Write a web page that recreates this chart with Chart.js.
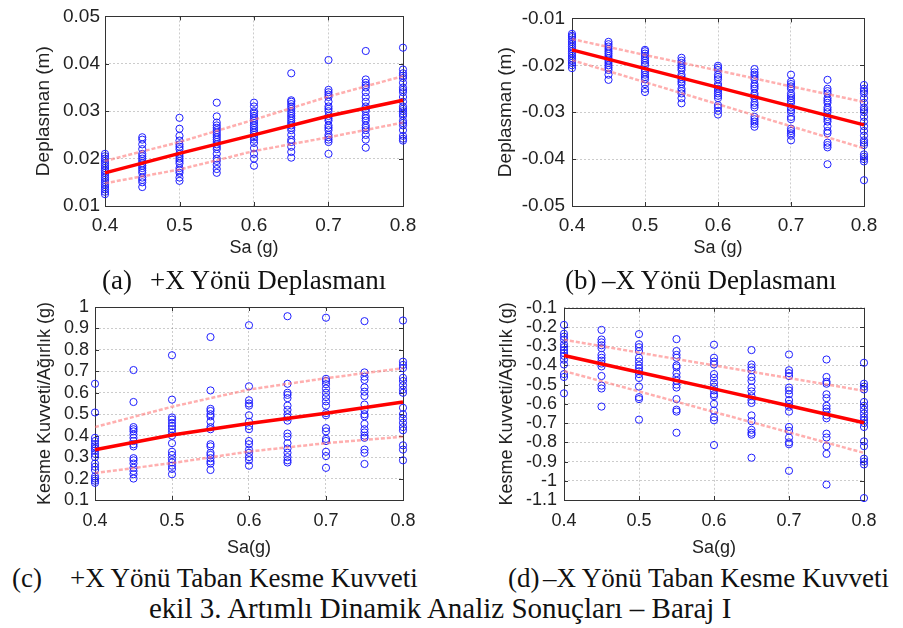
<!DOCTYPE html>
<html>
<head>
<meta charset="utf-8">
<script src="https://cdn.jsdelivr.net/npm/chart.js@4.4.1/dist/chart.umd.min.js"></script>
<style>
  body { margin: 0; background: #fff; }
  #page { position: relative; width: 903px; height: 628px; overflow: hidden; background: #fff; }
  canvas { position: absolute; }
  .cap { position: absolute; font-family: "Liberation Serif", "Times New Roman", serif; font-size: 27px; line-height: 30px; color: #111; white-space: pre; }
  .fig { font-size: 29px; line-height: 32px; }
</style>
</head>
<body>
<div id="page">
  <canvas id="chartA" width="440" height="262" style="left:0;top:0"></canvas>
  <canvas id="chartB" width="453" height="262" style="left:450px;top:0"></canvas>
  <canvas id="chartC" width="440" height="270" style="left:0;top:290px"></canvas>
  <canvas id="chartD" width="453" height="270" style="left:450px;top:290px"></canvas>

  <div class="cap" style="left:102px;top:265px">(a)</div>
  <div class="cap" style="left:150px;top:265px">+X Yönü Deplasmanı</div>
  <div class="cap" style="left:565px;top:265px">(b)</div>
  <div class="cap" style="left:602px;top:265px">–X Yönü Deplasmanı</div>
  <div class="cap" style="left:12px;top:563px">(c)</div>
  <div class="cap" style="left:70px;top:563px">+X Yönü Taban Kesme Kuvveti</div>
  <div class="cap" style="left:508px;top:563px">(d)</div>
  <div class="cap" style="left:543px;top:563px">–X Yönü Taban Kesme Kuvveti</div>
  <div class="cap fig" style="left:149px;top:592px">ekil 3. Artımlı Dinamik Analiz Sonuçları – Baraj I</div>
</div>
<script>
// Sa levels (g) of the analyses, and x positions used for the fitted curves
const saLevels = [0.4, 0.45, 0.5, 0.55, 0.6, 0.65, 0.7, 0.75, 0.8];
const lineX = [0.4, 0.5, 0.6, 0.7, 0.8];

// (a) +X displacement (m), one list per Sa level
const dispPos = [
    [0.021, 0.0205, 0.020, 0.0195, 0.019, 0.0185, 0.018, 0.0175, 0.017, 0.0165, 0.016, 0.0155, 0.015, 0.0145, 0.014, 0.0135, 0.013, 0.0125],
    [0.0245, 0.024, 0.023, 0.022, 0.021, 0.0205, 0.020, 0.0195, 0.019, 0.0185, 0.018, 0.0175, 0.017, 0.016, 0.0155, 0.015, 0.014],
    [0.0286, 0.0263, 0.0248, 0.0238, 0.023, 0.0225, 0.022, 0.021, 0.0205, 0.020, 0.0195, 0.019, 0.018, 0.0175, 0.017, 0.016, 0.0153],
    [0.0318, 0.0289, 0.0276, 0.027, 0.0265, 0.026, 0.0255, 0.025, 0.0245, 0.024, 0.0235, 0.023, 0.0225, 0.022, 0.021, 0.020, 0.0195, 0.0187, 0.0178, 0.017],
    [0.0318, 0.031, 0.030, 0.0295, 0.029, 0.0285, 0.028, 0.0275, 0.027, 0.0265, 0.026, 0.0255, 0.025, 0.0245, 0.024, 0.0233, 0.0222, 0.021, 0.020, 0.0185],
    [0.038, 0.0323, 0.032, 0.0315, 0.031, 0.0305, 0.030, 0.0295, 0.029, 0.0285, 0.028, 0.0275, 0.027, 0.0265, 0.026, 0.025, 0.024, 0.0235, 0.0225, 0.0214, 0.0202],
    [0.0408, 0.0345, 0.034, 0.0335, 0.033, 0.032, 0.031, 0.0305, 0.030, 0.029, 0.0285, 0.028, 0.027, 0.0265, 0.026, 0.025, 0.0245, 0.024, 0.0235, 0.021],
    [0.0427, 0.0367, 0.036, 0.0355, 0.035, 0.034, 0.033, 0.032, 0.031, 0.0305, 0.030, 0.029, 0.0285, 0.028, 0.027, 0.0265, 0.026, 0.025, 0.024, 0.0223],
    [0.0434, 0.0388, 0.038, 0.0375, 0.037, 0.036, 0.035, 0.0345, 0.034, 0.033, 0.032, 0.031, 0.0305, 0.030, 0.0295, 0.029, 0.028, 0.0275, 0.027, 0.026, 0.0248, 0.0242, 0.0238]
];
const dispPosFit = [0.017, 0.0211, 0.025, 0.029, 0.0323];
const dispPosUpper = [0.0195, 0.0235, 0.0282, 0.0331, 0.0374];
const dispPosLower = [0.0148, 0.0177, 0.0216, 0.0245, 0.0276];

// (b) -X displacement (m)
const dispNeg = [
    [-0.0133, -0.0137, -0.014, -0.0145, -0.015, -0.0155, -0.016, -0.0165, -0.017, -0.0175, -0.018, -0.0185, -0.019, -0.0195, -0.020, -0.0206],
    [-0.015, -0.0155, -0.016, -0.0165, -0.017, -0.0175, -0.018, -0.0185, -0.019, -0.0195, -0.020, -0.0205, -0.021, -0.022, -0.0231],
    [-0.0167, -0.017, -0.0175, -0.018, -0.0185, -0.019, -0.0195, -0.020, -0.021, -0.0215, -0.022, -0.0225, -0.023, -0.024, -0.025, -0.0257],
    [-0.0184, -0.019, -0.0195, -0.020, -0.0205, -0.021, -0.022, -0.0225, -0.023, -0.0235, -0.024, -0.025, -0.0255, -0.026, -0.027, -0.0281],
    [-0.0201, -0.0205, -0.021, -0.022, -0.0225, -0.023, -0.024, -0.0245, -0.025, -0.0255, -0.026, -0.0265, -0.027, -0.0285, -0.029, -0.0297, -0.0305],
    [-0.0208, -0.0215, -0.022, -0.0225, -0.023, -0.024, -0.0245, -0.025, -0.026, -0.0265, -0.027, -0.028, -0.0285, -0.029, -0.031, -0.0315, -0.032, -0.0325, -0.0331],
    [-0.022, -0.0235, -0.024, -0.0245, -0.025, -0.026, -0.0265, -0.027, -0.0275, -0.028, -0.029, -0.0295, -0.030, -0.031, -0.0315, -0.0335, -0.034, -0.0345, -0.035, -0.036],
    [-0.0231, -0.025, -0.0255, -0.026, -0.027, -0.0275, -0.028, -0.029, -0.0295, -0.030, -0.031, -0.0315, -0.032, -0.033, -0.034, -0.0345, -0.0365, -0.037, -0.0375, -0.0411],
    [-0.0242, -0.025, -0.0255, -0.026, -0.027, -0.028, -0.029, -0.0295, -0.030, -0.031, -0.032, -0.033, -0.034, -0.035, -0.036, -0.0365, -0.037, -0.039, -0.0395, -0.040, -0.0405, -0.0445]
];
const dispNegFit = [-0.0167, -0.0207, -0.0247, -0.0287, -0.0327];
const dispNegUpper = [-0.0144, -0.0178, -0.0211, -0.0245, -0.0278];
const dispNegLower = [-0.0189, -0.0236, -0.0283, -0.033, -0.0377];

// (c) +X base shear / weight
const shearPos = [
    [0.642, 0.508, 0.39, 0.375, 0.36, 0.35, 0.34, 0.33, 0.315, 0.30, 0.27, 0.255, 0.24, 0.21, 0.20, 0.19, 0.18],
    [0.706, 0.557, 0.44, 0.43, 0.42, 0.405, 0.39, 0.375, 0.36, 0.35, 0.295, 0.285, 0.27, 0.25, 0.235, 0.22, 0.20],
    [0.775, 0.568, 0.485, 0.475, 0.46, 0.445, 0.43, 0.415, 0.40, 0.365, 0.325, 0.31, 0.29, 0.275, 0.26, 0.245, 0.22],
    [0.86, 0.611, 0.525, 0.515, 0.50, 0.49, 0.465, 0.44, 0.43, 0.36, 0.35, 0.32, 0.31, 0.295, 0.28, 0.27, 0.24],
    [0.915, 0.63, 0.565, 0.55, 0.54, 0.495, 0.465, 0.445, 0.43, 0.375, 0.36, 0.335, 0.32, 0.30, 0.285, 0.26],
    [0.957, 0.642, 0.60, 0.59, 0.575, 0.54, 0.52, 0.50, 0.485, 0.47, 0.41, 0.395, 0.365, 0.34, 0.32, 0.30, 0.285, 0.275],
    [0.95, 0.665, 0.655, 0.64, 0.62, 0.60, 0.58, 0.56, 0.54, 0.505, 0.495, 0.435, 0.42, 0.385, 0.375, 0.325, 0.305, 0.25],
    [0.934, 0.695, 0.675, 0.66, 0.625, 0.605, 0.585, 0.545, 0.52, 0.50, 0.49, 0.455, 0.43, 0.415, 0.40, 0.39, 0.335, 0.32, 0.268],
    [0.937, 0.745, 0.73, 0.715, 0.67, 0.655, 0.635, 0.615, 0.60, 0.53, 0.50, 0.48, 0.46, 0.44, 0.425, 0.355, 0.335, 0.285]
];
const shearPosFit = [0.334, 0.403, 0.457, 0.505, 0.557];
const shearPosUpper = [0.44, 0.535, 0.615, 0.668, 0.715];
const shearPosLower = [0.226, 0.272, 0.326, 0.365, 0.395];

// (d) -X base shear / weight
const shearNeg = [
    [-0.189, -0.235, -0.25, -0.265, -0.29, -0.305, -0.32, -0.335, -0.35, -0.37, -0.395, -0.445, -0.46, -0.545],
    [-0.215, -0.265, -0.28, -0.295, -0.31, -0.345, -0.36, -0.375, -0.39, -0.405, -0.455, -0.505, -0.52, -0.614],
    [-0.237, -0.29, -0.305, -0.325, -0.36, -0.38, -0.40, -0.415, -0.43, -0.445, -0.465, -0.51, -0.565, -0.575, -0.682],
    [-0.263, -0.325, -0.345, -0.36, -0.40, -0.41, -0.44, -0.46, -0.48, -0.50, -0.515, -0.575, -0.63, -0.64, -0.75],
    [-0.292, -0.36, -0.38, -0.395, -0.445, -0.465, -0.49, -0.51, -0.53, -0.55, -0.56, -0.60, -0.635, -0.67, -0.685, -0.814],
    [-0.32, -0.395, -0.41, -0.425, -0.46, -0.48, -0.515, -0.535, -0.56, -0.58, -0.595, -0.66, -0.69, -0.735, -0.75, -0.76, -0.88],
    [-0.343, -0.425, -0.44, -0.455, -0.515, -0.53, -0.55, -0.58, -0.60, -0.615, -0.64, -0.72, -0.74, -0.775, -0.80, -0.81, -0.948],
    [-0.369, -0.46, -0.485, -0.495, -0.55, -0.57, -0.61, -0.625, -0.64, -0.66, -0.675, -0.755, -0.775, -0.82, -0.86, -1.02],
    [-0.386, -0.495, -0.51, -0.525, -0.59, -0.61, -0.63, -0.65, -0.67, -0.685, -0.70, -0.72, -0.795, -0.82, -0.885, -0.90, -0.915, -1.09]
];
const shearNegFit = [-0.348, -0.435, -0.522, -0.61, -0.698];
const shearNegUpper = [-0.266, -0.333, -0.40, -0.466, -0.532];
const shearNegLower = [-0.429, -0.535, -0.642, -0.748, -0.855];

Chart.defaults.font.family = '"Liberation Sans", Arial, sans-serif';
Chart.defaults.color = '#222';
Chart.defaults.animation = false;

// MATLAB style box with small inward ticks
const framePlugin = {
    id: 'frame',
    beforeDatasetsDraw(chart) {
        const { ctx, chartArea: a, scales } = chart;
        ctx.save();
        ctx.strokeStyle = '#333';
        ctx.lineWidth = 1;
        ctx.strokeRect(Math.round(a.left) + 0.5, Math.round(a.top) + 0.5,
            Math.round(a.right - a.left), Math.round(a.bottom - a.top));
        ctx.beginPath();
        scales.x.ticks.forEach(t => {
            const px = Math.round(scales.x.getPixelForValue(t.value)) + 0.5;
            ctx.moveTo(px, a.bottom); ctx.lineTo(px, a.bottom - 4);
            ctx.moveTo(px, a.top); ctx.lineTo(px, a.top + 4);
        });
        scales.y.ticks.forEach(t => {
            const py = Math.round(scales.y.getPixelForValue(t.value)) + 0.5;
            ctx.moveTo(a.left, py); ctx.lineTo(a.left + 4, py);
            ctx.moveTo(a.right, py); ctx.lineTo(a.right - 4, py);
        });
        ctx.stroke();
        ctx.restore();
    }
};

function lineData(ys) {
    return ys.map((y, i) => ({ x: lineX[i], y: y }));
}

function makePanel(id, p) {
    const points = [];
    p.cols.forEach((col, i) => col.forEach(v => points.push({ x: saLevels[i], y: v })));

    const boundStyle = {
        showLine: true, pointRadius: 0, borderColor: 'rgba(255, 110, 110, 0.55)',
        borderWidth: 2.5, borderDash: [4, 2], fill: false, order: 1, clip: false
    };

    new Chart(document.getElementById(id), {
        type: 'scatter',
        data: {
            datasets: [{
                data: lineData(p.fit), showLine: true, pointRadius: 0,
                borderColor: '#ff0000', borderWidth: 3.5, fill: false, order: 0, clip: false
            }, {
                ...boundStyle, data: lineData(p.upper)
            }, {
                ...boundStyle, data: lineData(p.lower)
            }, {
                data: points, pointStyle: 'circle', pointRadius: 3.6, borderWidth: 1,
                borderColor: '#1f1fff', backgroundColor: 'rgba(0,0,0,0)', order: 2, clip: false
            }]
        },
        options: {
            responsive: false,
            events: [],
            layout: { padding: { left: 0, top: p.padTop, right: p.padRight, bottom: 0 } },
            plugins: { legend: { display: false }, tooltip: { enabled: false } },
            scales: {
                x: {
                    type: 'linear', min: 0.4, max: 0.8,
                    afterFit: s => { s.height = p.axisH; },
                    ticks: { stepSize: 0.1, padding: p.xTickPad, font: { size: p.tickSize }, maxRotation: 0,
                        autoSkip: false, callback: v => String(Math.round(v * 10) / 10) },
                    grid: { color: 'rgba(0,0,0,0.2)', drawTicks: false },
                    border: { display: false, dash: [2, 2] },
                    title: { display: true, text: p.xTitle, font: { size: 18, lineHeight: 1 },
                        padding: { top: 0, bottom: p.xTitlePad } }
                },
                y: {
                    type: 'linear', min: p.yMin, max: p.yMax,
                    afterFit: s => { s.width = p.axisW; },
                    ticks: { stepSize: p.step, padding: p.yTickPad, font: { size: p.tickSize },
                        autoSkip: false, callback: v => String(Math.round(v * 1000) / 1000) },
                    grid: { color: 'rgba(0,0,0,0.2)', drawTicks: false },
                    border: { display: false, dash: [2, 2] },
                    title: { display: true, text: p.yTitle, font: { size: p.yTitleSize, lineHeight: 1 },
                        padding: { top: p.yTitlePad, bottom: 0 } }
                }
            }
        },
        plugins: [framePlugin]
    });
}

makePanel('chartA', {
    cols: dispPos, fit: dispPosFit, upper: dispPosUpper, lower: dispPosLower,
    yMin: 0.01, yMax: 0.05, step: 0.01, yTitle: 'Deplasman (m)', xTitle: 'Sa (g)', yTitleSize: 19, tickSize: 19,
    padTop: 10, padRight: 37, axisW: 105, axisH: 56, yTickPad: 5, yTitlePad: 34, xTickPad: 8, xTitlePad: 5
});
makePanel('chartB', {
    cols: dispNeg, fit: dispNegFit, upper: dispNegUpper, lower: dispNegLower,
    yMin: -0.05, yMax: -0.01, step: 0.01, yTitle: 'Deplasman (m)', xTitle: 'Sa (g)', yTitleSize: 19, tickSize: 19,
    padTop: 10, padRight: 39, axisW: 122, axisH: 56, yTickPad: 7, yTitlePad: 46, xTickPad: 8, xTitlePad: 5
});
makePanel('chartC', {
    cols: shearPos, fit: shearPosFit, upper: shearPosUpper, lower: shearPosLower,
    yMin: 0.1, yMax: 1, step: 0.1, yTitle: 'Kesme Kuvveti/Ağırlık (g)', xTitle: 'Sa(g)', yTitleSize: 18, tickSize: 18,
    padTop: 17, padRight: 37, axisW: 95, axisH: 60, yTickPad: 6, yTitlePad: 36, xTickPad: 10, xTitlePad: 3
});
makePanel('chartD', {
    cols: shearNeg, fit: shearNegFit, upper: shearNegUpper, lower: shearNegLower,
    yMin: -1.1, yMax: -0.1, step: 0.1, yTitle: 'Kesme Kuvveti/Ağırlık (g)', xTitle: 'Sa(g)', yTitleSize: 18, tickSize: 18,
    padTop: 17, padRight: 39, axisW: 114, axisH: 60, yTickPad: 7, yTitlePad: 48, xTickPad: 10, xTitlePad: 3
});
</script>
</body>
</html>
